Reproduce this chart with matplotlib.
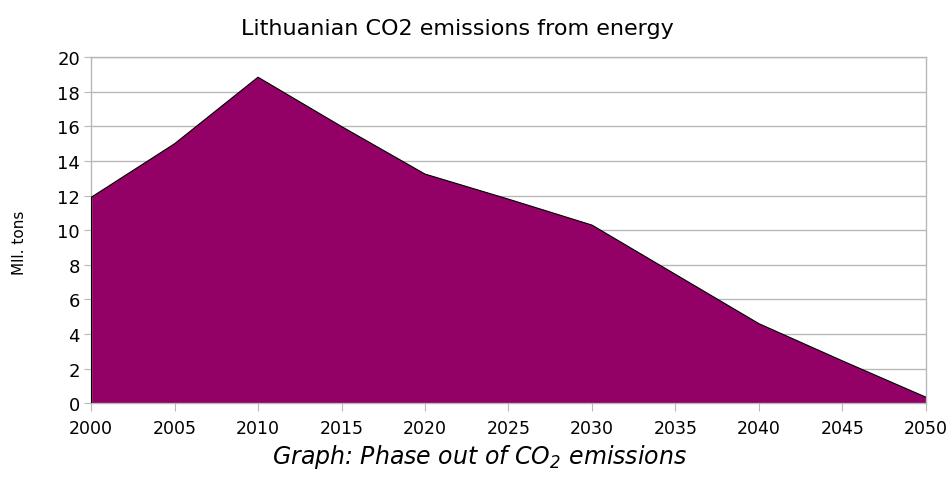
import matplotlib.pyplot as plt

plt.rcParams['font.family'] = ['DejaVu Sans']
plt.rcParams['mathtext.fontset'] = 'custom'
plt.rcParams['mathtext.rm'] = 'DejaVu Sans:italic'
plt.rcParams['mathtext.it'] = 'DejaVu Sans:italic'

years = [2000, 2005, 2010, 2015, 2020, 2025, 2030, 2035, 2040, 2045, 2050]
emissions = [11.9, 15.0, 18.85, 16.0, 13.25, 11.8, 10.3, 7.45, 4.6, 2.45, 0.35]

fill_color = '#930066'
grid_color = '#b8b8b8'

fig = plt.figure(figsize=(9.51, 4.81), dpi=100)
ax = fig.add_axes([0.0957, 0.1595, 0.878, 0.7193])

ax.fill_between(years, emissions, 0, facecolor=fill_color, edgecolor='none', zorder=2)
ax.plot(years, emissions, color='black', linewidth=0.8, zorder=3)
ax.plot([years[0], years[0]], [0, emissions[0]], color='black', linewidth=0.8, zorder=3)
ax.axhline(0, color='black', linewidth=0.8, zorder=3)

ax.set_xlim(2000, 2050)
ax.set_ylim(0, 20)
ax.set_xticks(range(2000, 2051, 5))
ax.set_yticks(range(0, 21, 2))
ax.tick_params(axis='x', length=6, color=grid_color, labelsize=12.5, pad=5)
ax.tick_params(axis='y', length=5, color=grid_color, labelsize=13, pad=3)

ax.grid(axis='y', color=grid_color, linewidth=1, zorder=1)
ax.set_axisbelow(True)
for side in ax.spines.values():
    side.set_color(grid_color)
    side.set_linewidth(1)

fig.text(0.481, 0.94, 'Lithuanian CO2 emissions from energy', ha='center', va='center', fontsize=16)
fig.text(0.02, 0.495, 'Mll. tons', rotation=90, ha='center', va='center', fontsize=11)
fig.text(0.504, 0.05, r'Graph: Phase out of CO$_\mathrm{2}$ emissions', ha='center', va='center',
         fontsize=17, style='italic')

fig.savefig('out.png', dpi=100)
